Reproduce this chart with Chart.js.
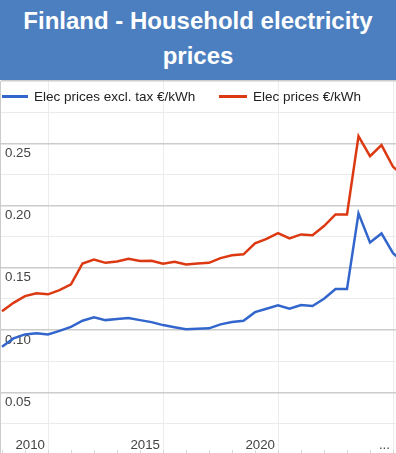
<!DOCTYPE html>
<html>
<head>
<meta charset="utf-8">
<script src="https://cdn.jsdelivr.net/npm/chart.js@4.4.1/dist/chart.umd.min.js"></script>
<style>
  html, body { margin: 0; padding: 0; background: #fff; overflow: hidden; }
  #wrap { position: relative; width: 396px; height: 453px; }
  #banner {
    position: absolute; left: 0; top: 0; width: 396px; height: 80px;
    box-sizing: border-box; padding-top: 2.5px;
    background: #4c7fbf; color: #fff; text-align: center;
    font: bold 24px/35px "Liberation Sans", Arial, sans-serif;
  }
  #chartBox { position: absolute; left: 0; top: 80px; width: 396px; height: 373px; }
  .leg {
    position: absolute; top: 88.7px; height: 16px; display: flex; align-items: center;
    font: 13.5px/16px "Liberation Sans", Arial, sans-serif; color: #222; white-space: nowrap; z-index: 2;
  }
  .leg i { display: inline-block; height: 3px; margin-right: 6px; }
</style>
</head>
<body>
<div id="wrap">
  <div id="banner">Finland - Household electricity<br>prices</div>
  <div id="chartBox"><canvas id="chart" width="396" height="373"></canvas></div>
  <div class="leg" style="left:2px"><i style="width:26px;background:#3366cc"></i>Elec prices excl. tax €/kWh</div>
  <div class="leg" style="left:219px"><i style="width:28px;background:#dc3912"></i>Elec prices €/kWh</div>
</div>
<script>
// half-year periods (Eurostat style), values in €/kWh
const periods = [
  '2008-S1','2008-S2','2009-S1','2009-S2','2010-S1','2010-S2','2011-S1','2011-S2',
  '2012-S1','2012-S2','2013-S1','2013-S2','2014-S1','2014-S2','2015-S1','2015-S2',
  '2016-S1','2016-S2','2017-S1','2017-S2','2018-S1','2018-S2','2019-S1','2019-S2',
  '2020-S1','2020-S2','2021-S1','2021-S2','2022-S1','2022-S2','2023-S1','2023-S2',
  '2024-S1','2024-S2','2025-S1','2025-S2',
];
const exclTax = [
  0.0866, 0.0933, 0.0965, 0.0974, 0.0965, 0.0994, 0.1026, 0.1075,
  0.1102, 0.1080, 0.1088, 0.1096, 0.1080, 0.1064, 0.1040, 0.1022,
  0.1006, 0.1010, 0.1014, 0.1046, 0.1064, 0.1075, 0.1144, 0.1171,
  0.1198, 0.1171, 0.1201, 0.1193, 0.1251, 0.1329, 0.1329, 0.1937,
  0.1704, 0.1776, 0.1618, 0.1535,
];
const inclTax = [
  0.1152, 0.1219, 0.1273, 0.1295, 0.1287, 0.1321, 0.1367, 0.1535,
  0.1567, 0.1540, 0.1551, 0.1572, 0.1554, 0.1556, 0.1532, 0.1548,
  0.1527, 0.1535, 0.1540, 0.1578, 0.1600, 0.1608, 0.1696, 0.1733,
  0.1778, 0.1736, 0.1768, 0.1762, 0.1835, 0.1929, 0.1929, 0.2557,
  0.2396, 0.2485, 0.2311, 0.2235,
];
const xTickYears  = [2010, 2015, 2020, 2025];
const xTickLabels = ['2010', '2015', '2020', '...'];
const yTickLabels = ['0.05', '0.10', '0.15', '0.20', '0.25'];

const FONT = '"Liberation Sans", Arial, sans-serif';
const toYear = p => +p.slice(0, 4) + (p.endsWith('S2') ? 0.5 : 0);
const X_MIN = 2007.913, X_MAX = 2025.13;

const series = vals => periods.map((p, i) => ({ x: toYear(p), y: vals[i] }));
const isMajor = v => Math.abs(v * 20 - Math.round(v * 20)) < 1e-6;

// axes take no room and add no label padding: the plot fills the canvas
const flat = (s, horizontal) => {
  if (horizontal) s.height = 0; else s.width = 0;
  s.paddingTop = s.paddingBottom = s.paddingLeft = s.paddingRight = 0;
};

new Chart(document.getElementById('chart'), {
  type: 'line',
  data: {
    datasets: [
      { label: 'Elec prices excl. tax €/kWh', data: series(exclTax), borderColor: '#3366cc', borderWidth: 2.5 },
      { label: 'Elec prices €/kWh',           data: series(inclTax), borderColor: '#dc3912', borderWidth: 2.5 },
    ],
  },
  options: {
    responsive: false,
    devicePixelRatio: 1,
    animation: false,
    layout: { autoPadding: false, padding: { top: 1, left: 0, right: 0, bottom: 0 } },
    elements: { point: { radius: 0 }, line: { tension: 0 } },
    plugins: { legend: { display: false }, tooltip: { enabled: false } },
    scales: {
      x: {
        type: 'linear', min: X_MIN, max: X_MAX,
        afterBuildTicks: s => { s.ticks = xTickYears.map(v => ({ value: v })); },
        afterFit: s => flat(s, true),
        ticks: {
          autoSkip: false, maxRotation: 0, align: 'end', labelOffset: -3, mirror: true, padding: 0,
          color: '#444', font: { size: 13.3, family: FONT },
          textStrokeColor: '#fff', textStrokeWidth: 3,
          callback: v => xTickLabels[xTickYears.indexOf(v)] ?? '',
        },
        grid: { color: '#ececec', drawTicks: false },
        border: { display: false },
      },
      x2: {
        type: 'linear', position: 'bottom', min: X_MIN, max: X_MAX,
        afterBuildTicks: s => {
          const t = [];
          for (let y = 2008; y <= 2025; y++) t.push({ value: y });
          s.ticks = t;
        },
        afterFit: s => flat(s, true),
        ticks: { display: false },
        grid: { drawOnChartArea: false, drawTicks: true, tickLength: -3, color: '#d6d6d6' },
        border: { display: false },
      },
      y: {
        min: 0.0013, max: 0.3,
        afterFit: s => flat(s, false),
        ticks: {
          stepSize: 0.025, includeBounds: false, mirror: true, padding: 5, labelOffset: 10,
          color: '#444', font: { size: 13.3, family: FONT },
          textStrokeColor: '#fff', textStrokeWidth: 3,
          callback: v => yTickLabels.find(l => Math.abs(+l - v) < 1e-6) ?? '',
        },
        grid: {
          drawTicks: false,
          color: c => isMajor(c.tick.value) ? '#cccccc' : '#ebebeb',
          lineWidth: c => isMajor(c.tick.value) ? 1.4 : 1,
        },
        border: { display: true, color: '#cccccc' },
      },
    },
  },
});
</script>
</body>
</html>
